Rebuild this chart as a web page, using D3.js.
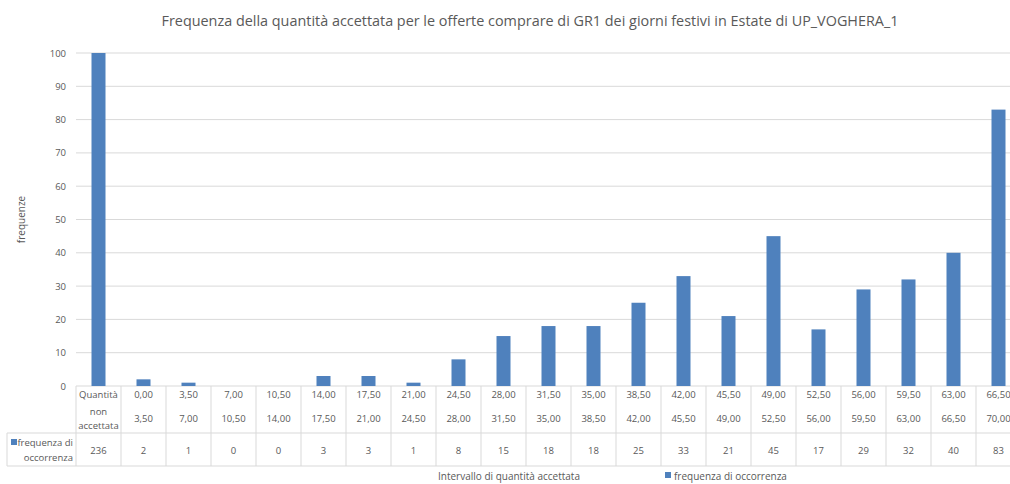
<!DOCTYPE html>
<html>
<head>
<meta charset="utf-8">
<script src="https://cdn.jsdelivr.net/npm/d3@7"></script>
<style>
  body { margin: 0; background: #fff; overflow: hidden; }
  svg { display: block; font-family: "Open Sans", "Liberation Sans", sans-serif; }
</style>
</head>
<body>
<svg id="vis"></svg>
<script>
const width = 1010;
const height = 484;
const margin = { top: 53, left: 76 };
const plotH = 386 - margin.top;
const cellW = 45;

// dati
const lowerLabels = ["Quantità", "0,00", "3,50", "7,00", "10,50", "14,00", "17,50", "21,00", "24,50", "28,00", "31,50",
  "35,00", "38,50", "42,00", "45,50", "49,00", "52,50", "56,00", "59,50", "63,00", "66,50"];
const upperLabels = ["non accettata", "3,50", "7,00", "10,50", "14,00", "17,50", "21,00", "24,50", "28,00", "31,50", "35,00",
  "38,50", "42,00", "45,50", "49,00", "52,50", "56,00", "59,50", "63,00", "66,50", "70,00"];
const frequenze = [236, 2, 1, 0, 0, 3, 3, 1, 8, 15, 18, 18, 25, 33, 21, 45, 17, 29, 32, 40, 83];
const yTicks = [0, 10, 20, 30, 40, 50, 60, 70, 80, 90, 100];

const seriesName = "frequenza di occorrenza";
const barColor = "#4f81bd";
const textColor = "#595959";
const gridColor = "#d9d9d9";

const svg = d3.select("svg#vis").attr("width", width).attr("height", height);

const idx = d3.range(frequenze.length);
const x = d3.scaleBand().domain(idx).range([margin.left, margin.left + idx.length * cellW]);
const y = d3.scaleLinear().domain([0, 100]).range([margin.top + plotH, margin.top]);

// titolo
svg.append("text")
  .attr("x", 530).attr("y", 26)
  .attr("text-anchor", "middle")
  .style("font-size", "14.4px")
  .style("fill", textColor)
  .text("Frequenza della quantità accettata per le offerte comprare di GR1 dei giorni festivi in Estate di UP_VOGHERA_1");

// griglia
svg.append("g").selectAll("line")
  .data(yTicks)
  .enter()
  .append("line")
  .attr("x1", margin.left).attr("x2", width)
  .attr("y1", d => y(d)).attr("y2", d => y(d))
  .style("stroke", gridColor).style("stroke-width", 1);

svg.append("g").selectAll("text")
  .data(yTicks)
  .enter()
  .append("text")
  .attr("x", 66).attr("y", d => y(d) + 3.5)
  .attr("text-anchor", "end")
  .style("font-size", "9.5px")
  .style("fill", textColor)
  .text(d => d);

svg.append("text")
  .attr("transform", "translate(25," + (margin.top + plotH / 2) + ") rotate(-90)")
  .attr("text-anchor", "middle")
  .style("font-size", "10px")
  .style("fill", textColor)
  .text("frequenze");

// barre
const barW = 14;
svg.append("g").selectAll("rect")
  .data(idx)
  .enter()
  .append("rect")
  .attr("x", i => x(i) + (x.bandwidth() - barW) / 2)
  .attr("width", barW)
  .attr("y", i => y(Math.min(frequenze[i], 100)))
  .attr("height", i => y(0) - y(Math.min(frequenze[i], 100)))
  .style("fill", barColor);

// tabella dati
const table = svg.append("g");
const rowTop = 386, rowMid = 433, rowBot = 466;

table.selectAll("line.col")
  .data(d3.range(idx.length + 1))
  .enter()
  .append("line")
  .attr("x1", i => margin.left + i * cellW).attr("x2", i => margin.left + i * cellW)
  .attr("y1", rowTop).attr("y2", rowBot)
  .style("stroke", gridColor);

table.append("line").attr("x1", 7).attr("x2", width).attr("y1", rowMid).attr("y2", rowMid).style("stroke", gridColor);
table.append("line").attr("x1", 7).attr("x2", width).attr("y1", rowBot).attr("y2", rowBot).style("stroke", gridColor);
table.append("line").attr("x1", 7).attr("x2", 7).attr("y1", rowMid).attr("y2", rowBot).style("stroke", gridColor);

const cells = table.selectAll("g.cell")
  .data(idx)
  .enter()
  .append("g")
  .attr("transform", i => "translate(" + (x(i) + cellW / 2) + ",0)")
  .style("font-size", "9.5px")
  .style("fill", textColor)
  .attr("text-anchor", "middle");

cells.append("text").attr("y", 398).text(i => lowerLabels[i]);
cells.filter(i => i > 0).append("text").attr("y", 422).text(i => upperLabels[i]);
cells.filter(i => i === 0).append("text").attr("y", 415).text("non");
cells.filter(i => i === 0).append("text").attr("y", 429).text("accettata");
cells.append("text").attr("y", 454).text(i => frequenze[i]);

// intestazione riga
table.append("rect").attr("x", 11).attr("y", 439).attr("width", 6).attr("height", 6).style("fill", barColor);
table.append("text").attr("x", 73).attr("y", 446).attr("text-anchor", "end")
  .style("font-size", "9.5px").style("fill", textColor).text("frequenza di");
table.append("text").attr("x", 73).attr("y", 461).attr("text-anchor", "end")
  .style("font-size", "9.5px").style("fill", textColor).text("occorrenza");

// titolo asse x e legenda
svg.append("text")
  .attr("x", 509).attr("y", 480)
  .attr("text-anchor", "middle")
  .style("font-size", "10px")
  .style("fill", textColor)
  .text("Intervallo di quantità accettata");

svg.append("rect").attr("x", 665).attr("y", 472).attr("width", 6).attr("height", 6).style("fill", barColor);
svg.append("text")
  .attr("x", 674).attr("y", 480)
  .style("font-size", "10px")
  .style("fill", textColor)
  .text(seriesName);
</script>
</body>
</html>
